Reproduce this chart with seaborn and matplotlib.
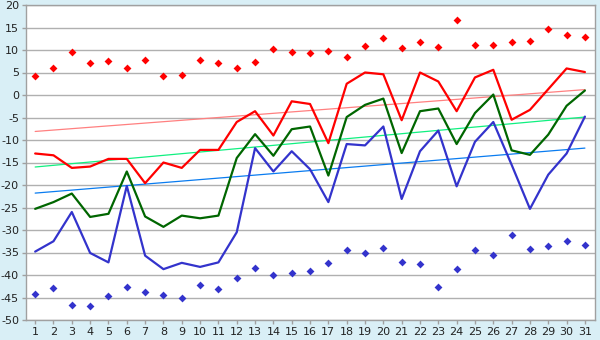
import matplotlib
matplotlib.use("Agg")
import matplotlib.pyplot as plt
import seaborn as sns

days = list(range(1, 32))

red_line = [-13.0, -13.4, -16.2, -15.9, -14.2, -14.2, -19.6, -15.0, -16.2, -12.2,
            -12.2, -6.0, -3.6, -9.0, -1.4, -2.0, -10.7, 2.5, 5.0, 4.6,
            -5.6, 5.0, 3.0, -3.6, 3.9, 5.6, -5.5, -3.3, 1.3, 5.9, 5.1]
green_line = [-25.3, -23.8, -21.9, -27.1, -26.4, -17.0, -27.0, -29.3, -26.8, -27.4,
              -26.8, -14.0, -8.7, -13.5, -7.6, -7.0, -17.9, -4.9, -2.2, -0.8,
              -12.9, -3.6, -3.0, -10.9, -4.0, 0.1, -12.3, -13.3, -8.8, -2.4, 1.0]
blue_line = [-34.8, -32.5, -26.0, -35.1, -37.2, -20.2, -35.7, -38.7, -37.3, -38.2,
             -37.2, -30.5, -11.8, -17.0, -12.5, -16.5, -23.8, -10.9, -11.2, -7.0,
             -23.1, -12.5, -7.9, -20.3, -10.4, -6.0, -15.5, -25.3, -17.7, -13.0, -4.8]
red_points = [4.2, 6.0, 9.55, 7.1, 7.55, 6.0, 7.8, 4.2, 4.4, 7.8,
              7.1, 6.0, 7.3, 10.2, 9.55, 9.3, 9.8, 8.4, 10.9, 12.7,
              10.4, 11.8, 10.7, 16.7, 11.1, 11.1, 11.8, 12.0, 14.7, 13.3, 12.9]
blue_points = [-44.2, -42.9, -46.7, -46.9, -44.7, -42.7, -43.8, -44.4, -45.1, -42.2,
               -43.1, -40.7, -38.4, -40.0, -39.6, -39.1, -37.3, -34.4, -35.1, -34.0,
               -37.1, -37.6, -42.7, -38.7, -34.4, -35.6, -31.1, -34.2, -33.6, -32.4, -33.3]

# trend lines, start and end values at day 1 and day 31
trend_x = [1, 31]
red_trend = [-8.1, 1.2]
green_trend = [-16.0, -4.9]
blue_trend = [-21.8, -11.8]

sns.set_style("white")
plt.rcParams['font.family'] = ['DejaVu Sans']
plt.rcParams['axes.unicode_minus'] = False

fig = plt.figure(figsize=(6, 3.4), dpi=100, facecolor="#d9eff6")
ax = fig.add_axes([26/600, 20/340, 569/600, 315/340])
ax.set_facecolor("white")

ax.set_yticks(range(-50, 21, 5))
ax.set_xticks(days)
ax.grid(axis="y", color="#b0b0b0", linewidth=1.0)
ax.set_axisbelow(True)

sns.lineplot(x=trend_x, y=red_trend, color="#ff8080", linewidth=0.9, ax=ax)
sns.lineplot(x=trend_x, y=green_trend, color="#10f080", linewidth=0.9, ax=ax)
sns.lineplot(x=trend_x, y=blue_trend, color="#0a7cf0", linewidth=0.9, ax=ax)

sns.lineplot(x=days, y=red_line, color="#ff0000", linewidth=1.6, ax=ax)
sns.lineplot(x=days, y=green_line, color="#006600", linewidth=1.6, ax=ax)
sns.lineplot(x=days, y=blue_line, color="#3333cc", linewidth=1.6, ax=ax)

sns.scatterplot(x=days, y=red_points, color="#ff0000", marker="D", s=16, linewidth=0, ax=ax)
sns.scatterplot(x=days, y=blue_points, color="#3333cc", marker="D", s=16, linewidth=0, ax=ax)

ax.set_xlim(0.5, 31.55)
ax.set_ylim(-50, 20)
for s in ax.spines.values():
    s.set_color("#a0a0a0")
    s.set_linewidth(1.0)
ax.tick_params(axis="both", length=3, width=1, color="#a0a0a0", labelsize=8, pad=2,
               labelcolor="#222222", left=True, bottom=True)

fig.savefig("out.png", dpi=100, facecolor=fig.get_facecolor())
